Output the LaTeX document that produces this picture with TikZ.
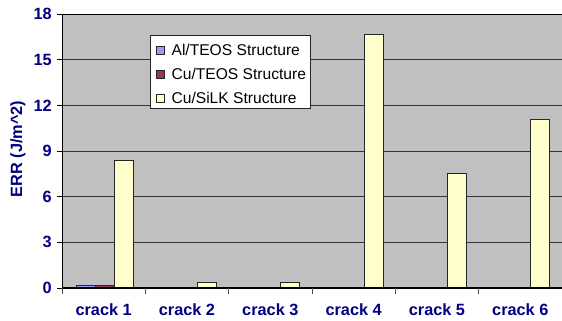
\documentclass[tikz,border=0pt]{standalone}
\usepackage{fontspec}
\setmainfont{Liberation Sans}
\usetikzlibrary{positioning}

\definecolor{errnavy}{RGB}{0,0,128}
\definecolor{plotgray}{RGB}{192,192,192}
\definecolor{alteos}{RGB}{153,153,255}
\definecolor{cuteos}{RGB}{153,51,102}
\definecolor{cusilk}{RGB}{255,255,204}

\tikzset{
  axlabel/.style={font=\fontsize{16.3}{19}\selectfont\bfseries, text=errnavy, inner sep=0pt},
  legtext/.style={font=\fontsize{15.6}{18}\selectfont, inner sep=0pt, anchor=west},
  barbox/.style={draw=black!85, line width=0.9pt},
  swatch/.style={draw=black!85, line width=0.8pt, minimum size=8pt, inner sep=0pt}
}

\begin{document}
\begin{tikzpicture}[x=1pt,y=1pt]
\useasboundingbox (0,0) rectangle (562,321);

% plot area
\fill[plotgray] (62,33) rectangle (562,307);
\foreach \v in {3,6,...,15}
  \draw[black!80, line width=0.8pt] (62,33+15.22*\v) -- (562,33+15.22*\v);
\draw[black, line width=0.9pt] (62,33) -- (62,307) -- (562,307);

% bars
\foreach \k/\a/\c/\s in {1/0.2/0.2/8.35, 2/0/0/0.35, 3/0/0/0.35,
                         4/0.05/0.05/16.65, 5/0.05/0.05/7.5, 6/0.05/0.05/11.1}{
  \pgfmathsetmacro{\xl}{62+(\k-1)*83.33+14}
  \draw[barbox, fill=alteos] (\xl,33) rectangle ++(19,15.22*\a);
  \draw[barbox, fill=cuteos] (\xl+19,33) rectangle ++(19,15.22*\c);
  \draw[barbox, fill=cusilk] (\xl+38,33) rectangle ++(19,15.22*\s);
}

% axes
\draw[black, line width=1.2pt] (62,33) -- (562,33);
\foreach \v in {0,3,...,18}{
  \draw[black, line width=0.8pt] (57,33+15.22*\v) -- (62,33+15.22*\v);
  \node[axlabel, anchor=east] (y\v) at (52,33+15.22*\v) {\v};
}
\foreach \k in {0,...,5}
  \draw[black!70, line width=0.8pt] (62+\k*83.33,33) -- (62+\k*83.33,27);

\node[axlabel, rotate=90] (ylab) at (18,172) {ERR (J/m\textasciicircum 2)};

% categories
\foreach \k in {1,...,6}
  \node[axlabel] (c\k) at (62+\k*83.33-41.67,11) {crack \k};

% legend
\draw[black!85, fill=white, line width=0.8pt] (150,213) rectangle (310,286);
\node[swatch, fill=alteos] (s1) at (160,271) {};
\node[swatch, fill=cuteos] (s2) at (160,247) {};
\node[swatch, fill=cusilk] (s3) at (160,223) {};
\node[legtext, right=7pt of s1] (l1) {Al/TEOS Structure};
\node[legtext, right=7pt of s2] (l2) {Cu/TEOS Structure};
\node[legtext, right=7pt of s3] (l3) {Cu/SiLK Structure};
\end{tikzpicture}
\end{document}
